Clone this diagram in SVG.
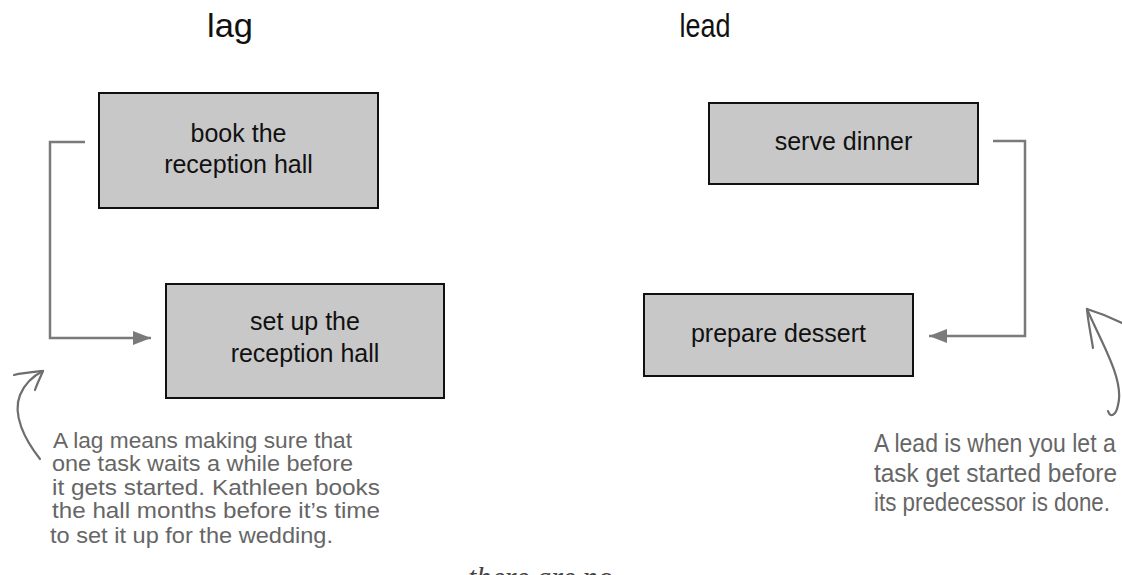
<svg xmlns="http://www.w3.org/2000/svg" width="1122" height="575" viewBox="0 0 1122 575">
<defs>
<style>
.title{font-family:"Liberation Sans",Arial,sans-serif;font-size:33px;fill:#111;text-anchor:middle}
.box{fill:#c8c8c8;stroke:#111;stroke-width:2}
.lbl{font-family:"Liberation Sans",Arial,sans-serif;font-size:25px;fill:#111;text-anchor:middle}
.conn{fill:none;stroke:#7a7a7a;stroke-width:2.5}
.note{font-family:"Liberation Sans",Arial,sans-serif;fill:#666}
.hand{fill:none;stroke:#6e6e6e;stroke-width:2.2;stroke-linecap:round}
</style>
<marker id="ah" viewBox="0 0 18 14" refX="18" refY="7" markerWidth="18" markerHeight="14" markerUnits="userSpaceOnUse" orient="auto">
<path d="M0,0 L18,7 L0,14 Z" fill="#7a7a7a"/>
</marker>
</defs>
<rect width="1122" height="575" fill="#fff"/>
<text class="title" x="230" y="37" textLength="46" lengthAdjust="spacingAndGlyphs">lag</text>
<text class="title" x="705" y="37" textLength="51" lengthAdjust="spacingAndGlyphs">lead</text>

<g id="connectors">
<path class="conn" d="M85,142 L50,142 L50,338 L151,338" marker-end="url(#ah)"/>
<path class="conn" d="M993,141 L1025,141 L1025,336 L929,336" marker-end="url(#ah)"/>
</g>

<g id="book-hall">
<rect class="box" x="99" y="93" width="279" height="115"/>
<text class="lbl" x="238.5" y="142">book the</text>
<text class="lbl" x="238.5" y="173">reception hall</text>
</g>
<g id="setup-hall">
<rect class="box" x="166" y="284" width="278" height="114"/>
<text class="lbl" x="305" y="330">set up the</text>
<text class="lbl" x="305" y="362">reception hall</text>
</g>
<g id="serve-dinner">
<rect class="box" x="709" y="103" width="269" height="81"/>
<text class="lbl" x="843.5" y="150">serve dinner</text>
</g>
<g id="prepare-dessert">
<rect class="box" x="644" y="294" width="269" height="82"/>
<text class="lbl" x="778.5" y="342">prepare dessert</text>
</g>

<g id="lag-note">
<path class="hand" d="M40,459 C25,440 12,415 20,395 C25,383 33,376 43,371"/>
<path class="hand" d="M43,371 C33,372 22,373 14,375"/>
<path class="hand" d="M43,371 C40,378 37,384 35,390"/>
<text class="note" font-size="22" x="53" y="448" textLength="299" lengthAdjust="spacingAndGlyphs">A lag means making sure that</text>
<text class="note" font-size="22" x="52" y="471" textLength="301" lengthAdjust="spacingAndGlyphs">one task waits a while before</text>
<text class="note" font-size="22" x="52" y="495" textLength="328" lengthAdjust="spacingAndGlyphs">it gets started. Kathleen books</text>
<text class="note" font-size="22" x="52" y="518" textLength="328" lengthAdjust="spacingAndGlyphs">the hall months before it’s time</text>
<text class="note" font-size="22" x="50" y="543" textLength="283" lengthAdjust="spacingAndGlyphs">to set it up for the wedding.</text>
</g>

<g id="lead-note">
<path class="hand" d="M1087,309 C1100,340 1125,380 1118,405 C1116,416 1110,418 1108,411"/>
<path class="hand" d="M1087,309 C1088,322 1091,335 1093,348"/>
<path class="hand" d="M1087,309 C1100,313 1112,318 1122,323"/>
<text class="note" font-size="26" transform="translate(874,452) scale(0.885,1)">A lead is when you let a</text>
<text class="note" font-size="26" transform="translate(874,482) scale(0.94,1)">task get started before</text>
<text class="note" font-size="26" transform="translate(874,511) scale(0.86,1)">its predecessor is done.</text>
</g>

<text x="468" y="587" font-family="'Liberation Serif',serif" font-style="italic" font-size="30" fill="#444" textLength="145" lengthAdjust="spacingAndGlyphs">there are no</text>
</svg>
